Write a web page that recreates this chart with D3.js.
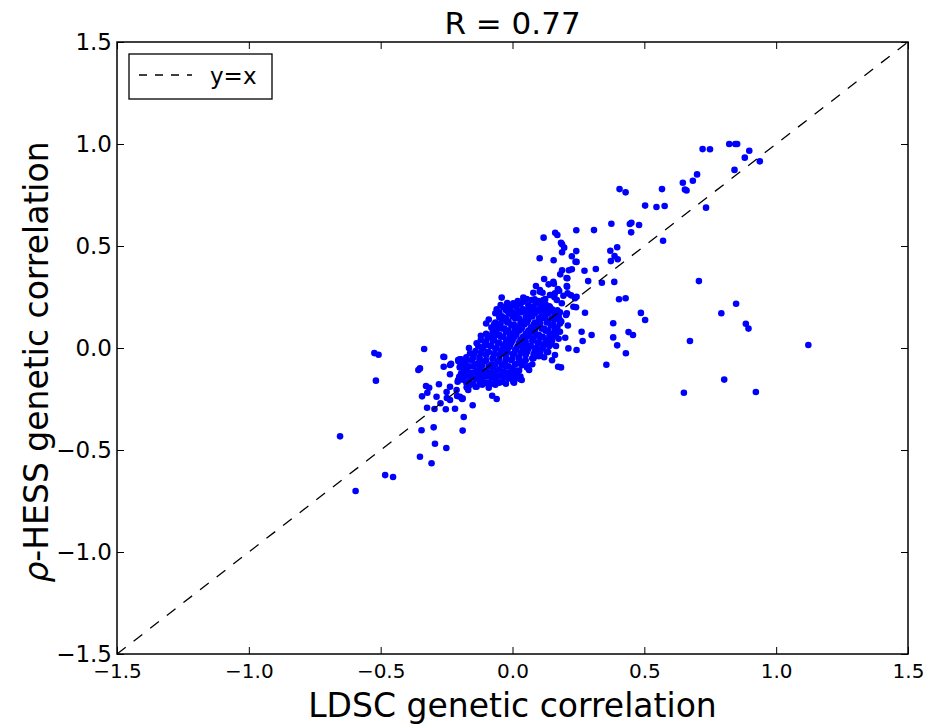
<!DOCTYPE html>
<html>
<head>
<meta charset="utf-8">
<script src="https://cdn.jsdelivr.net/npm/d3@7"></script>
<style>
  body { margin: 0; background: #fff; }
  text { font-family: "DejaVu Sans", sans-serif; fill: #000; }
</style>
</head>
<body>
<div id="container"></div>
<script>
/** DATA: [LDSC, rho-HESS] pairs */
const upperTail = [
  [0.406,0.779],[0.429,0.763],[0.567,0.779],[0.646,0.810],[0.654,0.777],[0.660,0.772],
  [0.684,0.820],[0.700,0.851],[0.721,0.975],[0.749,0.974],[0.822,1.000],[0.845,1.000],
  [0.852,1.000],[0.898,0.967],[0.881,0.933],[0.842,0.873],[0.938,0.915],
  [0.375,0.609],[0.445,0.608],[0.451,0.614],[0.480,0.603],[0.503,0.698],[0.546,0.691],
  [0.577,0.696],[0.734,0.688],[0.450,0.567],[0.571,0.526]
];

const upperArm = [
  [0.118,0.541],[0.162,0.565],[0.170,0.554],[0.184,0.516],[0.188,0.508],[0.196,0.492],
  [0.188,0.469],[0.242,0.577],[0.309,0.578],[0.103,0.440],[0.156,0.430],[0.242,0.475],
  [0.225,0.450],[0.239,0.423],[0.243,0.422],[0.371,0.477],[0.397,0.494],[0.373,0.426],
  [0.387,0.451],[0.399,0.435],[0.273,0.379],[0.316,0.387],[0.287,0.328],[0.339,0.320],
  [0.386,0.324],[0.188,0.381],[0.214,0.381],[0.225,0.386],[0.181,0.361],[0.205,0.343],
  [0.120,0.338],[0.137,0.312],[0.157,0.315],[0.089,0.304],[0.104,0.284],[0.114,0.271],
  [0.124,0.240],[0.172,0.289],[0.207,0.300],[0.209,0.268],[0.404,0.239],[0.429,0.244],
  [0.145,0.260],[0.159,0.249],[0.193,0.256],[0.222,0.258],[-0.041,0.247],[0.003,0.216],
  [0.041,0.247],[0.054,0.240],[0.084,0.239],[0.155,0.325],[0.177,0.281],[0.208,0.342],
  [0.206,0.304],[0.104,0.276],[0.079,0.271],[0.073,0.235],[0.092,0.227],[0.117,0.235],
  [0.142,0.260],[0.161,0.268],[0.168,0.235],[0.187,0.219],[0.241,0.200],[0.275,0.173],
  [0.237,0.244],[0.203,0.162],[0.168,0.178],[0.206,0.170],[0.231,0.202],[0.243,0.251],
  [0.180,0.137]
];

const offDiagonal = [
  [0.707,0.328],[0.848,0.217],[0.792,0.170],[0.885,0.119],[0.895,0.095],[0.673,0.034],
  [1.122,0.015],[0.803,-0.155],[0.650,-0.219],[0.923,-0.216],
  [0.487,0.172],[0.503,0.137],[0.382,0.121],[0.440,0.078],[0.457,0.064],[0.382,0.052],
  [0.397,0.013],[0.430,-0.026],[0.356,-0.082],
  [0.262,0.080],[0.300,0.064],[0.266,0.034],[0.212,-0.002],[0.243,-0.010],[0.161,-0.034],
  [0.184,-0.095],[0.173,-0.092],[0.117,0.015],[0.130,-0.018],[0.098,-0.018],
  [0.150,-0.060],[0.200,0.050],[0.210,0.110]
];

const lowerArm = [
  [-0.524,-0.025],[-0.508,-0.033],[-0.518,-0.160],[-0.335,-0.005],[-0.654,-0.433],
  [-0.595,-0.701],[-0.483,-0.623],[-0.453,-0.632],[-0.351,-0.533],[-0.307,-0.565],
  [-0.294,-0.469],[-0.251,-0.490],[-0.345,-0.403],[-0.299,-0.389],[-0.189,-0.405],
  [-0.185,-0.338],[-0.324,-0.293],[-0.296,-0.299],[-0.253,-0.300],[-0.218,-0.298],
  [-0.151,-0.281],[-0.343,-0.237],[-0.323,-0.219],[-0.328,-0.186],[-0.316,-0.195],
  [-0.279,-0.178],[-0.288,-0.239],[-0.250,-0.216],[-0.273,-0.271],[-0.249,-0.245],
  [-0.237,-0.255],[-0.210,-0.235],[-0.191,-0.250],[-0.259,-0.044],[-0.261,-0.092],
  [-0.233,-0.078],[-0.237,-0.129],[-0.077,-0.234],[-0.060,-0.250],[-0.357,-0.108],
  [-0.351,-0.100],[-0.208,-0.165],[-0.202,-0.141],[-0.195,-0.055],[-0.184,-0.064],
  [-0.170,-0.198],[-0.161,-0.026],[-0.262,-0.043],[-0.237,-0.083],[-0.206,-0.059],
  [-0.199,-0.092],[-0.193,-0.132],[-0.206,-0.157],[-0.237,-0.190],[-0.212,-0.206],
  [-0.199,-0.239],[-0.168,-0.206],[-0.136,-0.190],[-0.123,-0.157],[-0.098,-0.173],
  [-0.174,-0.193],[-0.189,-0.247],[-0.136,0.023],[-0.104,0.015],[-0.060,0.088],
  [-0.079,0.055],[0.006,-0.170],[0.028,-0.152],[0.063,-0.108],[0.017,-0.142],
  [-0.009,-0.137],[0.003,-0.165],[0.035,-0.157],[-0.100,0.120],[-0.120,0.060]
];

const core = [
  [-0.02,0.22],[0.02,0.23],[0.06,0.21],[0.10,0.23],[0.125,0.215],
  [-0.06,0.19],[-0.035,0.20],[-0.01,0.185],[0.015,0.20],[0.04,0.19],[0.07,0.20],[0.095,0.185],[0.12,0.20],[0.15,0.19],
  [-0.065,0.17],[-0.04,0.155],[-0.015,0.17],[0.01,0.16],[0.035,0.175],[0.06,0.16],[0.085,0.17],[0.11,0.155],[0.135,0.17],[0.16,0.16],[0.18,0.175],
  [-0.09,0.14],[-0.065,0.125],[-0.04,0.14],[-0.015,0.13],[0.01,0.145],[0.035,0.13],[0.06,0.14],[0.085,0.125],[0.11,0.145],[0.135,0.13],[0.16,0.14],[0.185,0.13],
  [-0.08,0.10],[-0.055,0.11],[-0.03,0.095],[-0.005,0.11],[0.02,0.10],[0.045,0.115],[0.07,0.10],[0.095,0.11],[0.12,0.095],[0.145,0.11],[0.17,0.10],
  [-0.10,0.07],[-0.075,0.08],[-0.05,0.065],[-0.025,0.08],[0,0.07],[0.025,0.085],[0.05,0.07],[0.075,0.08],[0.10,0.065],[0.125,0.085],[0.15,0.07],[0.18,0.08],
  [-0.12,0.04],[-0.095,0.05],[-0.07,0.04],[-0.045,0.055],[-0.02,0.04],[0.005,0.05],[0.03,0.04],[0.055,0.055],[0.08,0.045],[0.105,0.05],[0.13,0.04],[0.155,0.055],[0.175,0.045],
  [-0.13,0.01],[-0.105,0.02],[-0.08,0.01],[-0.055,0.025],[-0.03,0.015],[-0.005,0.025],[0.02,0.01],[0.045,0.02],[0.07,0.01],[0.095,0.025],[0.12,0.015],[0.145,0.02],[0.165,0.01],
  [-0.165,0],[-0.14,-0.015],[-0.115,-0.005],[-0.09,-0.02],[-0.065,-0.005],[-0.04,-0.015],[-0.015,0],[0.01,-0.01],[0.035,-0.02],[0.06,-0.005],[0.085,-0.015],[0.11,-0.005],[0.135,-0.02],
  [-0.175,-0.045],[-0.15,-0.03],[-0.125,-0.045],[-0.10,-0.035],[-0.075,-0.05],[-0.05,-0.035],[-0.025,-0.045],[0,-0.03],[0.025,-0.045],[0.05,-0.035],[0.075,-0.05],[0.10,-0.04],[0.12,-0.045],
  [-0.205,-0.065],[-0.18,-0.075],[-0.155,-0.06],[-0.13,-0.075],[-0.105,-0.065],[-0.08,-0.08],[-0.055,-0.065],[-0.03,-0.075],[-0.005,-0.06],[0.02,-0.075],[0.045,-0.065],[0.075,-0.08],
  [-0.20,-0.095],[-0.175,-0.105],[-0.15,-0.09],[-0.125,-0.10],[-0.10,-0.11],[-0.075,-0.095],[-0.05,-0.105],[-0.025,-0.09],[0,-0.10],[0.025,-0.11],[0.055,-0.095],
  [-0.195,-0.125],[-0.17,-0.135],[-0.145,-0.12],[-0.12,-0.13],[-0.095,-0.14],[-0.07,-0.125],[-0.045,-0.135],[-0.02,-0.12],[0.005,-0.13],[0.03,-0.14],
  [-0.19,-0.155],[-0.165,-0.165],[-0.14,-0.15],[-0.115,-0.16],[-0.09,-0.17],[-0.065,-0.155],[-0.04,-0.165],[-0.015,-0.15],[0.005,-0.16],
  [-0.165,-0.185],[-0.14,-0.19],[-0.115,-0.18],[-0.09,-0.195],[-0.065,-0.18],
  [-0.022,0.202],[0.003,0.219],[0.041,0.227],[0.092,0.222],[0.117,0.186],[0.142,0.200],[0.161,0.170],
  [-0.022,0.190],[0.016,0.170],[0.041,0.186],[0.054,0.178],[0.079,0.186],[0.104,0.195],[0.132,0.186]
];

// points sitting between the rows above, where the cluster is solid
const coreFill = [
  [-0.045,0.21],[-0.005,0.205],[0.03,0.215],[0.08,0.205],[0.11,0.21],[0.14,0.205],
  [-0.05,0.175],[-0.025,0.185],[0,0.175],[0.025,0.18],[0.05,0.185],[0.075,0.175],[0.10,0.18],[0.125,0.175],[0.15,0.18],[0.17,0.185],
  [-0.05,0.15],[-0.025,0.145],[0,0.155],[0.025,0.145],[0.05,0.15],[0.075,0.155],[0.10,0.145],[0.125,0.15],[0.15,0.145],[0.175,0.155],
  [-0.07,0.115],[-0.045,0.12],[-0.02,0.125],[0.005,0.115],[0.03,0.12],[0.055,0.125],[0.08,0.115],[0.105,0.12],[0.13,0.125],[0.155,0.115],[0.18,0.12],
  [-0.065,0.09],[-0.04,0.095],[-0.015,0.085],[0.01,0.09],[0.035,0.095],[0.06,0.085],[0.085,0.09],[0.11,0.095],[0.135,0.085],[0.16,0.09],
  [-0.085,0.06],[-0.06,0.065],[-0.035,0.055],[-0.01,0.06],[0.015,0.065],[0.04,0.055],[0.065,0.06],[0.09,0.065],[0.115,0.055],[0.14,0.06],[0.165,0.065],
  [-0.10,0.03],[-0.075,0.035],[-0.05,0.025],[-0.025,0.03],[0,0.035],[0.025,0.025],[0.05,0.03],[0.075,0.035],[0.1,0.025],[0.125,0.03],[0.15,0.035],
  [-0.11,0.005],[-0.085,0.01],[-0.06,0],[-0.035,0.005],[-0.01,0.01],[0.015,0],[0.04,0.005],[0.065,0.01],[0.09,0],[0.115,0.005],[0.14,0.01],
  [-0.145,-0.03],[-0.12,-0.025],[-0.095,-0.02],[-0.07,-0.03],[-0.045,-0.025],[-0.02,-0.02],[0.005,-0.03],[0.03,-0.025],[0.055,-0.02],[0.08,-0.03],[0.105,-0.025],
  [-0.2,-0.055],[-0.175,-0.06],[-0.15,-0.05],[-0.125,-0.055],[-0.1,-0.06],[-0.075,-0.05],[-0.05,-0.055],[-0.025,-0.06],[0,-0.05],[0.025,-0.055],[0.05,-0.06],[0.08,-0.05],
  [-0.19,-0.085],[-0.165,-0.09],[-0.14,-0.08],[-0.115,-0.085],[-0.09,-0.09],[-0.065,-0.08],[-0.04,-0.085],[-0.015,-0.09],[0.01,-0.08],[0.035,-0.085],[0.06,-0.09],
  [-0.185,-0.115],[-0.16,-0.12],[-0.135,-0.11],[-0.11,-0.115],[-0.085,-0.12],[-0.06,-0.11],[-0.035,-0.115],[-0.01,-0.12],[0.015,-0.11],
  [-0.18,-0.14],[-0.155,-0.145],[-0.13,-0.135],[-0.105,-0.14],[-0.08,-0.145],[-0.055,-0.14],[-0.03,-0.145],[-0.005,-0.14],[0.02,-0.135],
  [-0.175,-0.17],[-0.15,-0.175],[-0.125,-0.165],[-0.1,-0.17],[-0.075,-0.175],[-0.05,-0.17],[-0.025,-0.175]
];

const tickValues = [-1.5, -1.0, -0.5, 0.0, 0.5, 1.0, 1.5];
const diagonal = [[-1.5, -1.5], [1.5, 1.5]];
const titleText = "R = 0.77";

/** LAYOUT */
const width = 932, height = 727;
const plot = { left: 117, right: 908, top: 42, bottom: 654 };

const svg = d3.select("#container").append("svg")
  .attr("width", width)
  .attr("height", height);

const x = d3.scaleLinear().domain([-1.5, 1.5]).range([plot.left, plot.right]);
const y = d3.scaleLinear().domain([-1.5, 1.5]).range([plot.bottom, plot.top]);
const fmt = d3.format(".1f");

svg.append("defs").append("clipPath").attr("id", "clip")
  .append("rect")
  .attr("x", plot.left).attr("y", plot.top)
  .attr("width", plot.right - plot.left).attr("height", plot.bottom - plot.top);

// scatter points
const allPoints = [...core, ...coreFill, ...upperArm, ...upperTail, ...offDiagonal, ...lowerArm];
svg.append("g").attr("clip-path", "url(#clip)")
  .selectAll("circle")
  .data(allPoints)
  .join("circle")
  .attr("cx", d => x(d[0]))
  .attr("cy", d => y(d[1]))
  .attr("r", 3.3)
  .attr("fill", "#0000ff");

// y = x dashed line, on top of the dots
svg.append("path")
  .attr("clip-path", "url(#clip)")
  .attr("d", d3.line().x(d => x(d[0])).y(d => y(d[1]))(diagonal))
  .attr("fill", "none")
  .attr("stroke", "#000")
  .attr("stroke-width", 1.3)
  .attr("stroke-dasharray", "11,10");

// axes, ticks pointing inward
function styleAxis(g, size) {
  g.select(".domain").remove();
  g.selectAll(".tick line").attr("stroke", "#000").attr("stroke-width", 1);
  g.selectAll(".tick text").attr("font-family", "DejaVu Sans").attr("font-size", size).attr("fill", "#000");
}

svg.append("g")
  .attr("transform", `translate(0,${plot.bottom})`)
  .call(d3.axisBottom(x).tickValues(tickValues).tickFormat(fmt).tickSize(-7).tickPadding(10))
  .call(g => styleAxis(g, 20));

svg.append("g")
  .attr("transform", `translate(${plot.left},0)`)
  .call(d3.axisLeft(y).tickValues(tickValues).tickFormat(fmt).tickSize(-7).tickPadding(5))
  .call(g => styleAxis(g, 23));

svg.append("g")
  .attr("transform", `translate(0,${plot.top})`)
  .call(d3.axisTop(x).tickValues(tickValues).tickFormat("").tickSize(-7))
  .call(g => styleAxis(g, 0));

svg.append("g")
  .attr("transform", `translate(${plot.right},0)`)
  .call(d3.axisRight(y).tickValues(tickValues).tickFormat("").tickSize(-7))
  .call(g => styleAxis(g, 0));

// frame
svg.append("rect")
  .attr("x", plot.left).attr("y", plot.top)
  .attr("width", plot.right - plot.left).attr("height", plot.bottom - plot.top)
  .attr("fill", "none")
  .attr("stroke", "#000")
  .attr("stroke-width", 1.5);

// title and labels
svg.append("text")
  .attr("x", (plot.left + plot.right) / 2)
  .attr("y", 34)
  .attr("text-anchor", "middle")
  .attr("font-size", 31)
  .text(titleText);

svg.append("text")
  .attr("x", (plot.left + plot.right) / 2)
  .attr("y", 717)
  .attr("text-anchor", "middle")
  .attr("font-size", 33)
  .text("LDSC genetic correlation");

const yl = svg.append("text")
  .attr("transform", `translate(48,${(plot.top + plot.bottom) / 2 + 14}) rotate(-90)`)
  .attr("text-anchor", "middle")
  .attr("font-size", 33);
yl.append("tspan").attr("font-style", "italic").text("ρ");
yl.append("tspan").text("-HESS genetic correlation");

// legend
const legend = svg.append("g");
legend.append("rect")
  .attr("x", 129).attr("y", 54).attr("width", 143).attr("height", 45)
  .attr("fill", "#fff").attr("stroke", "#000").attr("stroke-width", 1.3);
legend.append("line")
  .attr("x1", 139).attr("x2", 192).attr("y1", 75).attr("y2", 75)
  .attr("stroke", "#000").attr("stroke-width", 1.3)
  .attr("stroke-dasharray", "8,8");
legend.append("text")
  .attr("x", 210).attr("y", 84)
  .attr("font-size", 23)
  .text("y=x");
</script>
</body>
</html>
